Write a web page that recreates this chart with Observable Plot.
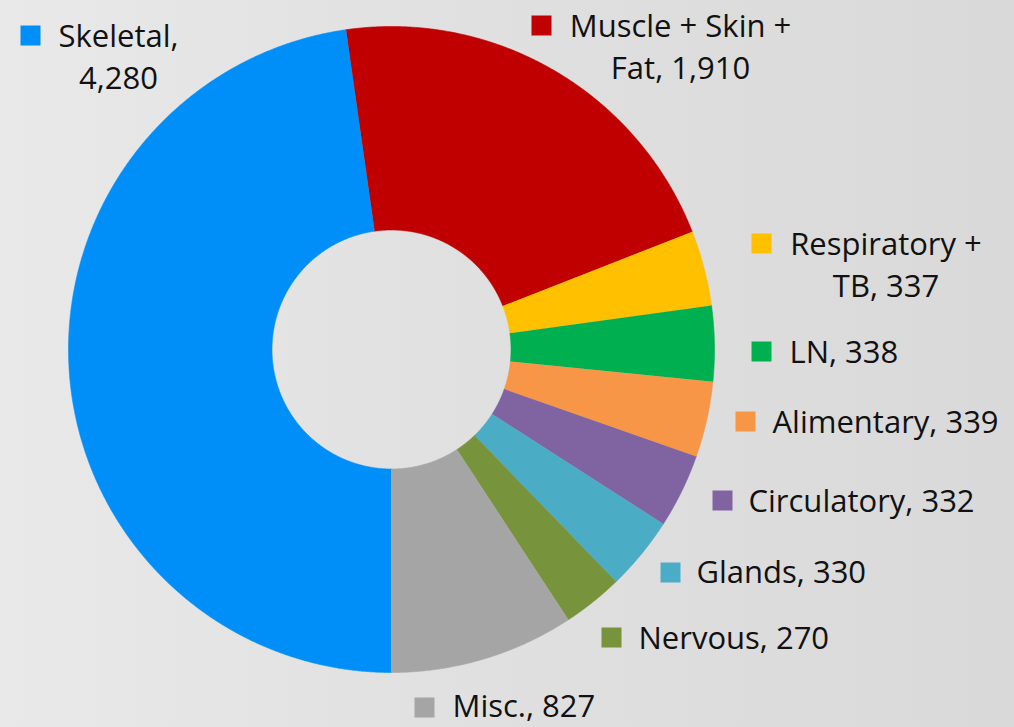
<!DOCTYPE html>
<html><head><meta charset="utf-8">
<script src="https://cdn.jsdelivr.net/npm/d3@7"></script>
<script src="https://cdn.jsdelivr.net/npm/@observablehq/plot@0.6"></script>
<style>
html,body{margin:0;padding:0;width:1014px;height:727px;overflow:hidden;}
body{background:linear-gradient(to right,#e9e9e9 0%,#e1e1e1 40%,#d9d9d9 100%);}
#chart svg{display:block;}
</style></head><body><div id="chart"></div>
<script>
// ---- data ----
const categories = ["Skeletal", "Muscle + Skin + Fat", "Respiratory + TB", "LN", "Alimentary", "Circulatory", "Glands", "Nervous", "Misc."];
const values = [4280, 1910, 337, 338, 339, 332, 330, 270, 827];
const labelTexts = ["Skeletal,\n4,280", "Muscle + Skin +\nFat, 1,910", "Respiratory +\nTB, 337", "LN, 338", "Alimentary, 339", "Circulatory, 332", "Glands, 330", "Nervous, 270", "Misc., 827"];
const colors = ["#008ff8", "#c00000", "#ffc000", "#00b050", "#f79646", "#8064a2", "#4bacc6", "#77933c", "#a5a5a5"];

// ---- layout (pixels relative to the donut centre) ----
const cx = 391, cy = 349, W = 1014, H = 727;
const outerR = 323, innerR = 119.5;
const labelLayout = [
  {tx: -273, ty: -312, anchor: "middle", mx: -361, my: -314},
  {tx: 289, ty: -322, anchor: "middle", mx: 150, my: -324},
  {tx: 494.5, ty: -104, anchor: "middle", mx: 370, my: -106},
  {tx: 398, ty: 4, anchor: "start", mx: 370, my: 2},
  {tx: 381, ty: 74, anchor: "start", mx: 354, my: 72},
  {tx: 357, ty: 153, anchor: "start", mx: 331, my: 151},
  {tx: 305, ty: 224, anchor: "start", mx: 279, my: 223},
  {tx: 247, ty: 290, anchor: "start", mx: 220, my: 288},
  {tx: 61, ty: 358, anchor: "start", mx: 33, my: 358}
];

// ---- slices through d3.pie ----
const arcs = d3.pie().sort(null).value(d => d).startAngle(Math.PI).endAngle(3 * Math.PI)(values);
const pts = [];
arcs.forEach((a, i) => {
  const n = Math.max(16, Math.ceil((a.endAngle - a.startAngle) / 0.004));
  for (let k = 0; k <= n; k++) {
    const t = a.startAngle + (a.endAngle - a.startAngle) * k / n;
    pts.push({key: categories[i], x: outerR * Math.sin(t), y: -outerR * Math.cos(t)});
  }
  for (let k = n; k >= 0; k--) {
    const t = a.startAngle + (a.endAngle - a.startAngle) * k / n;
    pts.push({key: categories[i], x: innerR * Math.sin(t), y: -innerR * Math.cos(t)});
  }
});

const labels = categories.map((c, i) => ({key: c, text: labelTexts[i], ...labelLayout[i]}));

const chart = Plot.plot({
  width: W, height: H, margin: 0,
  x: {domain: [-cx, W - cx], range: [0, W], axis: null},
  y: {domain: [-cy, H - cy], range: [0, H], axis: null},
  color: {domain: categories, range: colors},
  style: {background: "transparent", fontFamily: "'Open Sans', sans-serif", overflow: "visible"},
  marks: [
    Plot.line(pts, {x: "x", y: "y", z: "key", fill: "key", stroke: "key", strokeWidth: 0.6, curve: "linear"}),
    Plot.dot(labels, {x: "mx", y: "my", symbol: "square", r: 11.28, fill: "key", stroke: "none"}),
    Plot.text(labels, {filter: d => d.anchor === "middle", x: "tx", y: "ty", text: "text", textAnchor: "middle", lineAnchor: "top", lineHeight: 1.35, fontSize: 31, fill: "#111", dy: -20}),
    Plot.text(labels, {filter: d => d.anchor === "start", x: "tx", y: "ty", text: "text", textAnchor: "start", fontSize: 31, fill: "#111"})
  ]
});
document.getElementById("chart").appendChild(chart);
</script>
</body></html>
